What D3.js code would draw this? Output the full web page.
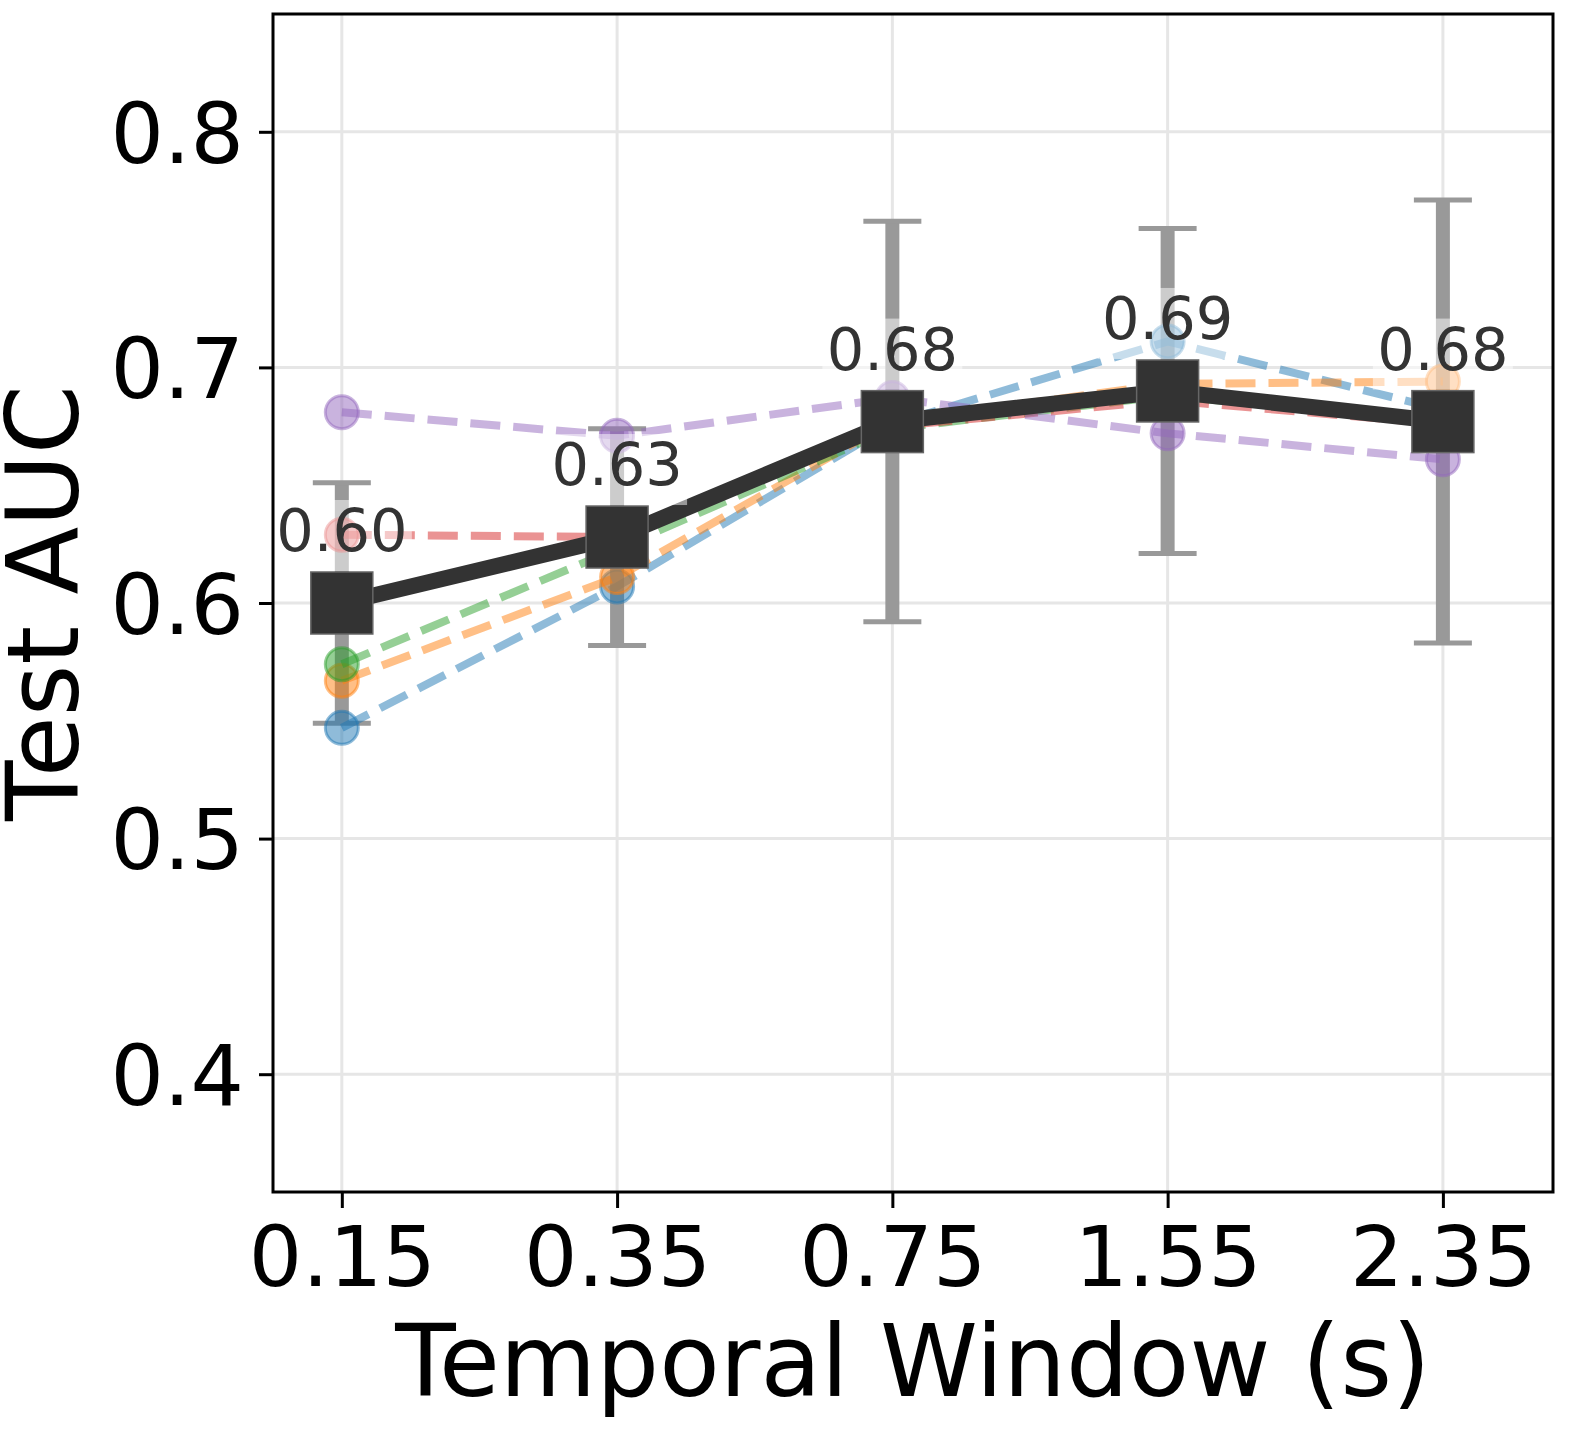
<!DOCTYPE html>
<html>
<head>
<meta charset="utf-8">
<script src="https://cdn.jsdelivr.net/npm/d3@7"></script>
<style>
  html, body { margin: 0; padding: 0; background: #fff; }
  svg { display: block; font-family: "DejaVu Sans", sans-serif; }
</style>
</head>
<body>
<div id="chart"></div>
<script>
const windows = ["0.15", "0.35", "0.75", "1.55", "2.35"];
const meanAuc = [0.600, 0.628, 0.677, 0.690, 0.677];
const stdAuc = [0.051, 0.046, 0.085, 0.069, 0.094];
const meanLabels = ["0.60", "0.63", "0.68", "0.69", "0.68"];
const yTicks = [0.4, 0.5, 0.6, 0.7, 0.8];

const seriesBlue = [0.547, 0.607, 0.676, 0.711, 0.682];
const seriesOrange = [0.567, 0.611, 0.677, 0.693, 0.694];
const seriesGreen = [0.574, 0.623, 0.674, 0.688, 0.677];
const seriesRed = [0.629, 0.628, 0.675, 0.686, 0.676];
const seriesPurple = [0.681, 0.671, 0.687, 0.672, 0.661];

const runs = [
  { color: "#1f77b4", values: seriesBlue },
  { color: "#ff7f0e", values: seriesOrange },
  { color: "#2ca02c", values: seriesGreen },
  { color: "#d62728", values: seriesRed },
  { color: "#9467bd", values: seriesPurple }
];

const width = 1571;
const height = 1434;
const margin = { top: 14, right: 18, bottom: 242, left: 273 };
const innerWidth = width - margin.left - margin.right;
const innerHeight = height - margin.top - margin.bottom;

const svg = d3.select("#chart")
  .append("svg")
  .attr("width", width)
  .attr("height", height);

const g = svg.append("g")
  .attr("transform", `translate(${margin.left},${margin.top})`);

const x = d3.scaleLinear()
  .domain([-0.25, 4.4])
  .range([0, innerWidth]);

const y = d3.scaleLinear()
  .domain([0.35, 0.85])
  .range([innerHeight, 0]);

// grid
g.append("g")
  .selectAll("line")
  .data(yTicks)
  .join("line")
  .attr("x1", 0)
  .attr("x2", innerWidth)
  .attr("y1", (d) => y(d))
  .attr("y2", (d) => y(d))
  .attr("stroke", "#e6e6e6")
  .attr("stroke-width", 3);

g.append("g")
  .selectAll("line")
  .data(windows)
  .join("line")
  .attr("x1", (d, i) => x(i))
  .attr("x2", (d, i) => x(i))
  .attr("y1", 0)
  .attr("y2", innerHeight)
  .attr("stroke", "#e6e6e6")
  .attr("stroke-width", 3);

// axes
const yAxis = g.append("g")
  .call(d3.axisLeft(y).tickValues(yTicks).tickFormat(d3.format(".1f")).tickSize(14).tickPadding(15));

const xAxis = g.append("g")
  .attr("transform", `translate(0,${innerHeight})`)
  .call(d3.axisBottom(x).tickValues(d3.range(windows.length)).tickFormat((i) => windows[i]).tickSize(16).tickPadding(18));

[yAxis, xAxis].forEach((axis) => {
  axis.select(".domain").remove();
  axis.selectAll(".tick line").attr("stroke", "#000").attr("stroke-width", 3);
  axis.selectAll(".tick text")
    .attr("fill", "#000")
    .style("font-size", "84px")
    .style("font-family", "DejaVu Sans");
});
xAxis.selectAll(".tick text").attr("dy", "0.72em");
yAxis.selectAll(".tick text").attr("dy", "0.36em");

// error bars
const errorBars = g.append("g");
errorBars.selectAll(".err")
  .data(meanAuc)
  .join("line")
  .attr("x1", (d, i) => x(i))
  .attr("x2", (d, i) => x(i))
  .attr("y1", (d, i) => y(d - stdAuc[i]))
  .attr("y2", (d, i) => y(d + stdAuc[i]))
  .attr("stroke", "#999")
  .attr("stroke-width", 14);

[1, -1].forEach((sign) => {
  errorBars.append("g")
    .selectAll("line")
    .data(meanAuc)
    .join("line")
    .attr("x1", (d, i) => x(i) - 29)
    .attr("x2", (d, i) => x(i) + 29)
    .attr("y1", (d, i) => y(d + sign * stdAuc[i]))
    .attr("y2", (d, i) => y(d + sign * stdAuc[i]))
    .attr("stroke", "#999")
    .attr("stroke-width", 5);
});

// individual runs
const line = d3.line()
  .x((d, i) => x(i))
  .y((d) => y(d));

runs.forEach((run) => {
  const rg = g.append("g");
  rg.append("path")
    .datum(run.values)
    .attr("d", line)
    .attr("fill", "none")
    .attr("stroke", run.color)
    .attr("stroke-opacity", 0.5)
    .attr("stroke-width", 8)
    .attr("stroke-dasharray", "30 13");
  rg.selectAll("circle")
    .data(run.values)
    .join("circle")
    .attr("cx", (d, i) => x(i))
    .attr("cy", (d) => y(d))
    .attr("r", 16.5)
    .attr("fill", run.color)
    .attr("fill-opacity", 0.5)
    .attr("stroke", run.color)
    .attr("stroke-opacity", 0.5)
    .attr("stroke-width", 3);
});

// mean line
g.append("path")
  .datum(meanAuc)
  .attr("d", line)
  .attr("fill", "none")
  .attr("stroke", "#333")
  .attr("stroke-width", 16);

g.selectAll(".mean-marker")
  .data(meanAuc)
  .join("rect")
  .attr("class", "mean-marker")
  .attr("x", (d, i) => x(i) - 31)
  .attr("y", (d) => y(d) - 31)
  .attr("width", 62)
  .attr("height", 62)
  .attr("fill", "#333")
  .attr("stroke", "#666")
  .attr("stroke-width", 1.5);

// value labels
const labels = g.append("g")
  .selectAll("g")
  .data(meanAuc)
  .join("g")
  .attr("transform", (d, i) => `translate(${x(i)},${y(d) - 52})`);

labels.append("rect")
  .attr("x", -70)
  .attr("y", -51)
  .attr("width", 140)
  .attr("height", 71)
  .attr("fill", "#fff")
  .attr("fill-opacity", 0.5);

labels.append("text")
  .attr("text-anchor", "middle")
  .attr("fill", "#333")
  .style("font-size", "59px")
  .text((d, i) => meanLabels[i]);

// frame
g.append("rect")
  .attr("width", innerWidth)
  .attr("height", innerHeight)
  .attr("fill", "none")
  .attr("stroke", "#000")
  .attr("stroke-width", 3);

// axis titles
svg.append("text")
  .attr("x", margin.left + innerWidth / 2)
  .attr("y", 1396)
  .attr("text-anchor", "middle")
  .style("font-size", "99px")
  .text("Temporal Window (s)");

svg.append("text")
  .attr("transform", `translate(78,${margin.top + innerHeight / 2}) rotate(-90)`)
  .attr("text-anchor", "middle")
  .style("font-size", "99px")
  .text("Test AUC");
</script>
</body>
</html>
